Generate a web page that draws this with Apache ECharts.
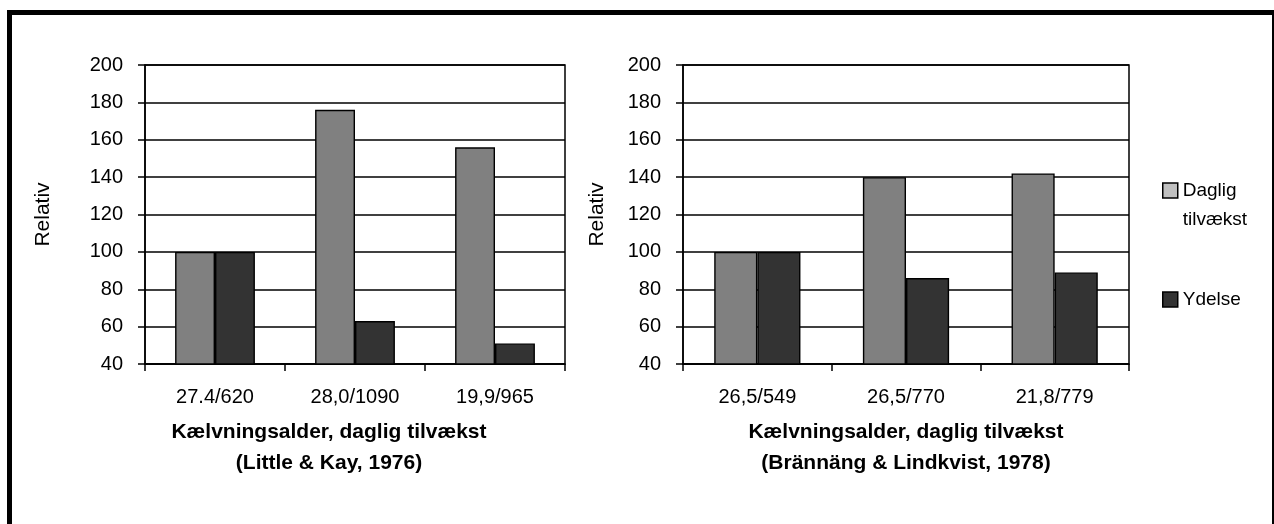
<!DOCTYPE html>
<html>
<head>
<meta charset="utf-8">
<script src="https://cdn.jsdelivr.net/npm/echarts@6/dist/echarts.min.js"></script>
<style>
html,body{margin:0;padding:0;background:#fff;}
#chart{width:1274px;height:524px;}
</style>
</head>
<body>
<div id="chart"></div>
<script>
var categoriesLeft = ['27.4/620', '28,0/1090', '19,9/965'];
var dagligLeft = [100, 176, 156];
var ydelseLeft = [100, 63, 51];

var categoriesRight = ['26,5/549', '26,5/770', '21,8/779'];
var dagligRight = [100, 140, 142];
var ydelseRight = [100, 86, 89];

var seriesNames = ['Daglig tilvækst', 'Ydelse'];
var titleLeft = 'Kælvningsalder, daglig tilvækst\n(Little & Kay, 1976)';
var titleRight = 'Kælvningsalder, daglig tilvækst\n(Brännäng & Lindkvist, 1978)';
var yName = 'Relativ';

var FONT = '"Liberation Sans", Arial, sans-serif';

function yAxisOpt(idx, gap) {
  return {
    type: 'value', gridIndex: idx, min: 40, max: 200, interval: 20,
    name: yName, nameLocation: 'middle', nameGap: gap,
    nameTextStyle: {color: '#000', fontSize: 21, fontFamily: FONT},
    axisLine: {show: true, lineStyle: {color: '#000', width: 1.5}},
    axisTick: {show: true, length: 7, lineStyle: {color: '#000', width: 1.5}},
    axisLabel: {color: '#000', fontSize: 20, fontFamily: FONT, margin: 22},
    splitLine: {show: true, lineStyle: {color: '#000', width: 1.6}}
  };
}
function xAxisOpt(idx, cats, name, pad) {
  return {
    type: 'category', gridIndex: idx, data: cats,
    name: name, nameLocation: 'middle', nameGap: 53,
    nameTextStyle: {color: '#000', fontSize: 21, fontWeight: 'bold', fontFamily: FONT, lineHeight: 31, padding: pad},
    axisLine: {show: true, lineStyle: {color: '#000', width: 1.5}},
    axisTick: {show: true, length: 7, lineStyle: {color: '#000', width: 1.5}},
    axisLabel: {color: '#000', fontSize: 20, fontFamily: FONT, margin: 23},
    splitLine: {show: false}
  };
}
function barSeries(name, idx, data, color, gapCat) {
  return {
    type: 'bar', name: name, xAxisIndex: idx, yAxisIndex: idx, data: data,
    barGap: '0%', barCategoryGap: gapCat,
    itemStyle: {color: color, borderColor: '#000', borderWidth: 1.4},
    emphasis: {disabled: true}
  };
}

var chart = echarts.init(document.getElementById('chart'), null, {renderer: 'canvas'});
chart.setOption({
  animation: false,
  backgroundColor: '#fff',
  grid: [
    {left: 145, top: 65, width: 420, height: 299, show: true, borderColor: '#000', borderWidth: 1.5},
    {left: 683, top: 65, width: 446, height: 299, show: true, borderColor: '#000', borderWidth: 1.5}
  ],
  xAxis: [
    xAxisOpt(0, categoriesLeft, titleLeft, [0, 52, 0, 0]),
    xAxisOpt(1, categoriesRight, titleRight, [0, 0, 0, 0])
  ],
  yAxis: [yAxisOpt(0, 91), yAxisOpt(1, 75)],
  legend: {
    orient: 'vertical', left: 1157, top: 142, itemWidth: 15, itemHeight: 15, itemGap: 51,
    selectedMode: false,
    textStyle: {color: '#000', fontSize: 19, fontFamily: FONT, lineHeight: 29},
    formatter: function (n) { return n === 'Daglig tilvækst' ? ' \nDaglig\ntilvækst' : n; },
    data: [
      {name: seriesNames[0], icon: 'rect', itemStyle: {color: '#c0c0c0', borderColor: '#000', borderWidth: 1.5}},
      {name: seriesNames[1], icon: 'rect', itemStyle: {color: '#333333', borderColor: '#000', borderWidth: 1.5}}
    ]
  },
  graphic: [
    {type: 'rect', shape: {x: 7, y: 10, width: 1267, height: 5}, style: {fill: '#000'}, silent: true},
    {type: 'rect', shape: {x: 7, y: 10, width: 5, height: 514}, style: {fill: '#000'}, silent: true},
    {type: 'rect', shape: {x: 1272, y: 10, width: 2, height: 514}, style: {fill: '#000'}, silent: true}
  ],
  series: [
    barSeries(seriesNames[0], 0, dagligLeft, '#808080', '43%'),
    barSeries(seriesNames[1], 0, ydelseLeft, '#333333', '43%'),
    barSeries(seriesNames[0], 1, dagligRight, '#808080', '42%'),
    barSeries(seriesNames[1], 1, ydelseRight, '#333333', '42%')
  ]
});
</script>
</body>
</html>
